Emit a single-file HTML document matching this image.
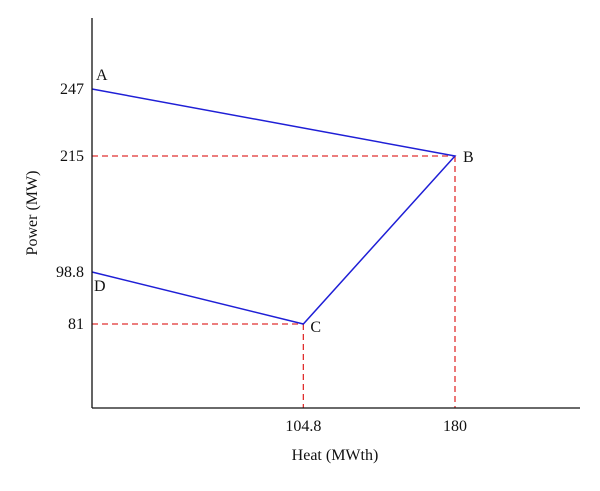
<!DOCTYPE html>
<html><head><meta charset="utf-8"><style>
body{margin:0;background:#fff;}
svg text{font-family:"Liberation Serif",serif;fill:#111;}
</style></head><body>
<svg width="600" height="486" viewBox="0 0 600 486">
<g id="plot"></g>
</svg>
<script>
const pointLabels=["A","B","C","D"];
const heatValues=[0,180,104.8,0];
const powerValues=[247,215,81,98.8];
const xTickLabels=[104.8,180];
const yTickLabels=[247,215,98.8,81];
const NS="http://www.w3.org/2000/svg";
const g=document.getElementById('plot');
const X0=92,Y0=408;
function xs(v){return X0+v*(455-X0)/180;}
const yDom=[0,81,98.8,215,247,300],yPix=[408,324,272,156,89,-20];
function ys(v){for(let i=0;i<yDom.length-1;i++){if(v<=yDom[i+1]||i===yDom.length-2){const t=(v-yDom[i])/(yDom[i+1]-yDom[i]);return yPix[i]+t*(yPix[i+1]-yPix[i]);}}}
function mk(tag,attrs){const e=document.createElementNS(NS,tag);for(const k in attrs)e.setAttribute(k,attrs[k]);g.appendChild(e);return e;}
[1,2].forEach(i=>{
 const h=mk('line',{x1:X0,y1:ys(powerValues[i]),x2:xs(heatValues[i]),y2:ys(powerValues[i]),stroke:'#e03030','stroke-width':1.3,'stroke-dasharray':'6,4'});
 
 
 const v=mk('line',{x1:xs(heatValues[i]),y1:ys(powerValues[i]),x2:xs(heatValues[i]),y2:Y0,stroke:'#e03030','stroke-width':1.3,'stroke-dasharray':'6,4'});
 
 
});
const pts=pointLabels.map((l,i)=>xs(heatValues[i])+','+ys(powerValues[i])).join(' ');
const pl=mk('polyline',{points:pts,fill:'none',stroke:'#1f1fd6','stroke-width':1.5});


const offs=[[4,-9],[8,6],[7,8],[2,19]];
pointLabels.forEach((l,i)=>{
 const t=mk('text',{x:xs(heatValues[i])+offs[i][0],y:ys(powerValues[i])+offs[i][1],'font-size':16});
 t.textContent=l;
 
 
});
const ya=mk('line',{x1:X0,y1:18,x2:X0,y2:Y0,stroke:'#111','stroke-width':1.3});


const xa=mk('line',{x1:X0,y1:Y0,x2:580,y2:Y0,stroke:'#111','stroke-width':1.3});


xTickLabels.forEach(v=>{
 const t=mk('text',{x:xs(v),y:431,'font-size':16,'text-anchor':'middle'});
 t.textContent=v;
 
 
});
yTickLabels.forEach(v=>{
 const t=mk('text',{x:84,y:ys(v)+5,'font-size':16,'text-anchor':'end'});
 t.textContent=v;
 
 
});
const xt=mk('text',{x:335,y:460,'font-size':16,'text-anchor':'middle'});
xt.textContent='Heat (MWth)';


const yt=mk('text',{x:0,y:0,'font-size':16,'text-anchor':'middle',transform:'translate(37,213) rotate(-90)'});
yt.textContent='Power (MW)';


</script>
</body></html>
